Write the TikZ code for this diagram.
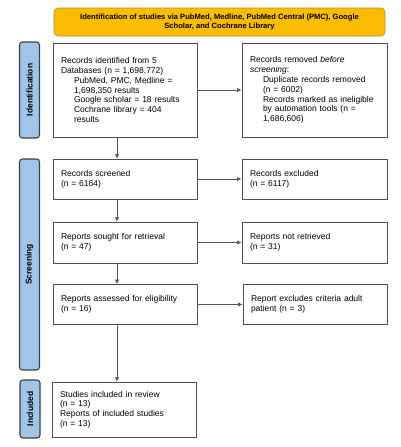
\documentclass[tikz,border=0pt]{standalone}
\usepackage{fontspec}
\setmainfont{Liberation Sans}
\usetikzlibrary{arrows.meta}
\definecolor{bannerfill}{HTML}{FBBC04}
\definecolor{bannerdraw}{HTML}{B8922A}
\definecolor{sidefill}{HTML}{9FC5E8}
\definecolor{sidedraw}{HTML}{3A3F47}
\definecolor{boxdraw}{HTML}{505050}
\definecolor{linecol}{HTML}{555555}
\newcommand{\ind}{\hspace*{13pt}}
\tikzset{
  flowbox/.style={draw=boxdraw, line width=1pt, fill=white, align=left,
    inner xsep=8pt, inner ysep=0pt, font=\fontsize{8.5}{9.8}\selectfont,
    anchor=center},
  sidebar/.style={draw=sidedraw, line width=1.1pt, fill=sidefill, rounded corners=3pt,
    inner sep=0pt, anchor=center},
  sidelabel/.style={rotate=90, font=\bfseries\fontsize{8.4}{9}\selectfont, anchor=center},
  banner/.style={draw=bannerdraw, line width=0.6pt, fill=bannerfill, rounded corners=4pt,
    align=center, inner sep=0pt, font=\bfseries\fontsize{7.6}{8.4}\selectfont},
  arr/.style={draw=linecol, line width=0.7pt, -{Latex[length=4.5pt,width=4.5pt]}}
}
\begin{document}
\begin{tikzpicture}[x=1pt,y=-1pt]
\useasboundingbox (0,0) rectangle (400,447);
% banner
\node[banner, minimum width=331pt, minimum height=28pt] (ban) at (219.5,22)
  {Identification of studies via PubMed, Medline, PubMed Central (PMC), Google\\Scholar, and Cochrane Library};
% side bars
\node[sidebar, minimum width=20pt, minimum height=96pt] (sideI) at (29.5,90) {};
\node[sidelabel] (labI) at (sideI.center) {Identification};
\node[sidebar, minimum width=20pt, minimum height=211pt] (sideS) at (29.5,264.5) {};
\node[sidelabel] (labS) at (sideS.center) {Screening};
\node[sidebar, minimum width=20pt, minimum height=58pt] (sideC) at (30,409) {};
\node[sidelabel] (labC) at (sideC.center) {Included};
% boxes
\node[flowbox, text width=128pt, minimum height=94pt] (b1) at (125,90)
  {Records identified from 5\\Databases (n = 1,698,772)\\\ind PubMed, PMC, Medline =\\\ind 1,698,350 results\\\ind Google scholar = 18 results\\\ind Cochrane library = 404\\\ind results};
\node[flowbox, text width=129pt, minimum height=94pt] (r1) at (314.5,90)
  {Records removed \textit{before}\\\textit{screening}:\\\ind Duplicate records removed\\\ind (n = 6002)\\\ind Records marked as ineligible\\\ind by automation tools (n =\\\ind 1,686,606)};
\node[flowbox, text width=128pt, minimum height=40pt] (b2) at (125,179)
  {Records screened\\(n = 6164)};
\node[flowbox, text width=129pt, minimum height=40pt] (r2) at (314.5,179)
  {Records excluded\\(n = 6117)};
\node[flowbox, text width=128pt, minimum height=41pt] (b3) at (125,242.5)
  {Reports sought for retrieval\\(n = 47)};
\node[flowbox, text width=129pt, minimum height=41pt] (r3) at (314.5,242.5)
  {Reports not retrieved\\(n = 31)};
\node[flowbox, text width=128pt, minimum height=40pt] (b4) at (125,304.5)
  {Reports assessed for eligibility\\(n = 16)};
\node[flowbox, text width=128pt, minimum height=40pt] (r4) at (315,304.5)
  {Report excludes criteria adult\\patient (n = 3)};
\node[flowbox, text width=128pt, minimum height=55pt] (b5) at (124,409.5)
  {Studies included in review\\(n = 13)\\Reports of included studies\\(n = 13)};
% connectors
\draw[arr] (b1.east) -- (r1.west);
\draw[arr] (b2.east) -- (r2.west);
\draw[arr] (b3.east) -- (r3.west);
\draw[arr] (b4.east) -- (r4.west);
\draw[arr] ([xshift=-8pt]b1.south) -- ([xshift=-8pt]b2.north);
\draw[arr] ([xshift=-8pt]b2.south) -- ([xshift=-8pt]b3.north);
\draw[arr] ([xshift=-8pt]b3.south) -- ([xshift=-8pt]b4.north);
\draw[arr] ([xshift=-8pt]b4.south) -- ([xshift=-7pt]b5.north);
\end{tikzpicture}
\end{document}
